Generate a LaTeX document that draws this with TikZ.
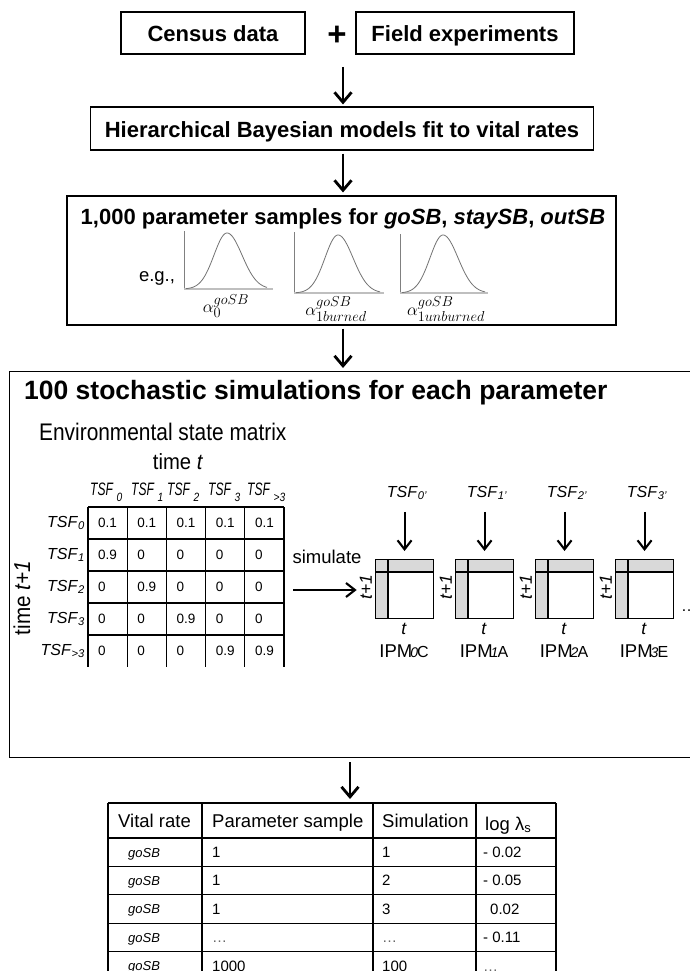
\documentclass[tikz,border=0pt]{standalone}
\usepackage{fontspec}
\setmainfont{Liberation Sans}
\usetikzlibrary{arrows.meta}
\newcommand\fs[1]{\fontsize{#1}{#1}\selectfont}
\begin{document}
\begin{tikzpicture}[x=1pt,y=-1pt,
  bx/.style={draw, line width=1.1pt, inner sep=0pt},
  arr/.style={line width=2.8pt, -{Straight Barb[length=10pt,width=17pt]}},
  sarr/.style={line width=2.1pt, -{Straight Barb[length=9pt,width=14pt]}},
  gridline/.style={line width=1.1pt},
  ttl/.style={font=\bfseries\fs{22}, text height=20pt, text depth=2pt},
  txt/.style={inner sep=0pt},
  curve/.style={draw=black!55, line width=0.8pt},
  yax/.style={draw=black!50, line width=0.6pt},
  xax/.style={draw=black!25, line width=2pt}]
\useasboundingbox (0,0) rectangle (690,971);
\clip (0,0) rectangle (690,971);
\fill[white] (0,0) rectangle (690,971);

% ---- top boxes
\node[bx, ttl, minimum width=184pt, minimum height=42pt] (census) at (213,33) {Census data};
\node[txt, font=\bfseries\fs{33}, anchor=base] (plus) at (337,46) {+};
\node[bx, ttl, minimum width=218pt, minimum height=42pt] (field) at (465,33) {Field experiments};
\node[bx, ttl, minimum width=503pt, minimum height=43pt] (hier) at (342,128.5) {Hierarchical Bayesian models fit to vital rates};
\node[bx, minimum width=549pt, minimum height=129pt] (param) at (341.5,260.5) {};
\node[txt, ttl] (ptitle) at (343,215) {1,000 parameter samples for \textit{goSB}, \textit{staySB}, \textit{outSB}};

% ---- big box
\node[bx, minimum width=711pt, minimum height=386pt, anchor=north west] (sim) at (9,371) {};

% ---- arrows between stages
\coordinate (a1) at (343,67);
\coordinate (a4) at (350,800);
\coordinate (tabtop) at (350,803);
\draw[arr, shorten >=2pt] (a1) -- (a1 |- hier.north);
\draw[arr, shorten <=3pt, shorten >=3pt] (hier.south -| a1) -- (param.north -| a1);
\draw[arr, shorten <=3pt, shorten >=3pt] (param.south -| a1) -- (sim.north -| a1);
\draw[arr, shorten <=4pt, shorten >=4pt] (sim.south -| a4) -- (tabtop);

% ---- distributions
\node[txt, font=\fs{18.5}] (eg) at (157,278) {e.g.,};
\begin{scope}[shift={(184,289)}]
  \draw[yax] (0,-58) -- (0,0);
  \draw[xax] (0,0) -- (89,0);
  \draw[curve] plot[domain=-41:0, samples=40, smooth] ({43+\x},{-56*exp(-(\x/13)*(\x/13)/2)})
     -- plot[domain=0:40, samples=40, smooth] ({43+\x},{-56*exp(-(\x/15)*(\x/15)/2)});
\end{scope}
\begin{scope}[shift={(294,293)}]
  \draw[yax] (0,-61) -- (0,0);
  \draw[xax] (0,0) -- (90,0);
  \draw[curve] plot[domain=-42:0, samples=40, smooth] ({44+\x},{-58*exp(-(\x/13)*(\x/13)/2)})
     -- plot[domain=0:42, samples=40, smooth] ({44+\x},{-58*exp(-(\x/15)*(\x/15)/2)});
\end{scope}
\begin{scope}[shift={(400,293)}]
  \draw[yax] (0,-59) -- (0,0);
  \draw[xax] (0,0) -- (88,0);
  \draw[curve] plot[domain=-41:0, samples=40, smooth] ({43+\x},{-58*exp(-(\x/13)*(\x/13)/2)})
     -- plot[domain=0:42, samples=40, smooth] ({43+\x},{-58*exp(-(\x/15)*(\x/15)/2)});
\end{scope}
\node[txt, font=\fs{19}] (lab0) at (226,306) {$\alpha_0^{goSB}$};
\node[txt, font=\fs{19}] (lab1) at (336,309) {$\alpha_{1burned}^{goSB}$};
\node[txt, font=\fs{19}] (lab2) at (446,309) {$\alpha_{1unburned}^{goSB}$};

% ---- simulation box contents
\node[txt, font=\bfseries\fs{26.5}, anchor=west] (stitle) at (24,393) {100 stochastic simulations for each parameter};
\node[txt, anchor=west] (envlab) at (39,432) {\fs{24}\scalebox{0.87}[1]{Environmental state matrix}};
\node[txt] (timet) at (178,462) {\fs{22}\scalebox{0.92}[1]{time \textit{t}}};
\node[txt, rotate=90] (timet1) at (22,598) {\fs{23}\scalebox{0.9}[1]{time \textit{t+1}}};

% column headers
\foreach \cx/\sub in {90/0,131/1,167/2,208/3,247/{>3}} {
  \node[txt, anchor=base west] (ch\cx) at (\cx,495)
    {\fs{18}\scalebox{0.67}[1]{\textit{TSF}}\kern3pt\raisebox{-6pt}{\fs{12}\scalebox{0.85}[1]{\textit{\sub}}}};
}
% row labels
\foreach \sub [count=\r from 0] in {0,1,2,3,{>3}} {
  \node[txt, anchor=east] (rl\r) at (85,{523+32*\r}) {\fs{16}\textit{TSF}\textsubscript{\textit{\sub}}};
}
% grid
\foreach \i in {0,...,4} \draw[gridline] (88,{507+32*\i}) -- (284,{507+32*\i});
\foreach \j in {0,...,5} \draw[gridline] ({88+39.2*\j},507) -- ({88+39.2*\j},667);
% cells
\foreach \vals [count=\r from 0] in {{0.1,0.1,0.1,0.1,0.1},{0.9,0,0,0,0},{0,0.9,0,0,0},{0,0,0.9,0,0},{0,0,0,0.9,0.9}} {
  \foreach \v [count=\c from 0] in \vals {
    \node[txt, anchor=west, font=\fs{13.5}] (m-\r-\c) at ({88+39.2*\c+10},{523+32*\r}) {\v};
  }
}

% simulate
\node[txt, font=\fs{18.5}] (simlab) at (327,557) {simulate};
\coordinate (sa) at (293,590);

% IPMs
\foreach \i/\ltr in {0/C,1/A,2/A,3/E} {
  \pgfmathsetmacro\L{375+80*\i}
  \fill[black!15] (\L,559) rectangle ++(58,13);
  \fill[black!15] (\L,559) rectangle ++(13,59);
  \node[bx, minimum width=58pt, minimum height=59pt, anchor=north west] (ipm\i) at (\L,559) {};
  \draw[gridline] (\L+13,559) -- (\L+13,618);
  \draw[gridline] (\L,572) -- (\L+58,572);
  \node[txt, anchor=base] (tsf\i) at (\L+32,497) {\fs{16}\textit{TSF}\textsubscript{\textit{\i’}}};
  \draw[sarr, shorten <=12pt, shorten >=8pt] (ipm\i.north |- tsf\i.south) -- (ipm\i.north);
  \node[txt, rotate=90] (tp\i) at (\L-9,587) {\fs{17.5}\textit{t+1}};
  \node[txt, anchor=base] (tt\i) at (\L+29,634) {\fs{17.5}\textit{t}};
  \node[txt, anchor=base] (ipml\i) at (\L+29,657) {\fs{18.5}IPM\kern-2pt{\fs{14}\textit{\i}}\kern-1pt{\fs{16}\ltr}};
}
\draw[sarr, shorten >=3pt] (sa) -- (sa -| tp0.north);
\node[txt, anchor=west, font=\fs{16}] (dots) at (681,611) {…};

% ---- table
\foreach \y in {803,838,866.4,894.8,923.2,951.6} \draw[gridline] (108,\y) -- (556,\y);
\foreach \x in {108,202,373,476,556} \draw[gridline] (\x,803) -- (\x,985);
\node[txt, anchor=base west, font=\fs{18.5}] (h1) at (118,827) {Vital rate};
\node[txt, anchor=base west, font=\fs{18.5}] (h2) at (212,827) {Parameter sample};
\node[txt, anchor=base west, font=\fs{18.5}] (h3) at (382,827) {Simulation};
\node[txt, anchor=base west, font=\fs{18.5}] (h4) at (485,830) {log λ\textsubscript{s}};
\foreach \a/\b/\c/\cx [count=\r from 0] in {1/1/- 0.02/483, 1/2/- 0.05/483, 1/3/0.02/490, {\textcolor{black!60}{…}}/{\textcolor{black!60}{…}}/- 0.11/483, 1000/100/{\textcolor{black!60}{…}}/483} {
  \node[txt, anchor=base west, font=\fs{13}\itshape] (v\r) at (128,{857+28.4*\r}) {goSB};
  \node[txt, anchor=base west, font=\fs{15}] (p\r) at (212,{857.5+28.4*\r}) {\a};
  \node[txt, anchor=base west, font=\fs{15}] (s\r) at (382,{857.5+28.4*\r}) {\b};
  \node[txt, anchor=base west, font=\fs{15}] (l\r) at (\cx,{857.5+28.4*\r}) {\c};
}
\end{tikzpicture}
\end{document}
